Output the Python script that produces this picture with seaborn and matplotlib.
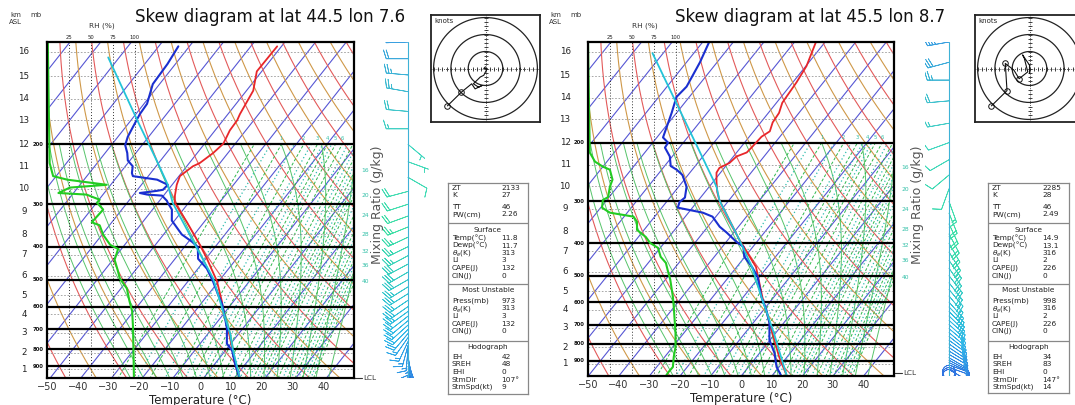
import numpy as np
import pandas as pd
import matplotlib
matplotlib.use("Agg")
import matplotlib.pyplot as plt
from matplotlib.colors import LinearSegmentedColormap, Normalize
from matplotlib.ticker import NullLocator
import seaborn as sns

sns.set_style("white")
plt.rcParams["font.family"] = ["DejaVu Sans"]

# ---------------------------------------------------------------- data
titles = ["Skew diagram at lat 44.5 lon 7.6", "Skew diagram at lat 45.5 lon 8.7"]
surface_p = [973, 998]
lcl_p = [973, 978]

x_ticks = [-50, -40, -30, -20, -10, 0, 10, 20, 30, 40]
km_labels = list(range(1, 17))
km_p = [918, 820, 716, 632, 556, 487, 423, 368, 315, 270, 233, 200, 170, 147, 126, 107]
mb_levels = [900, 800, 700, 600, 500, 400, 300, 200]
rh_ticks = [25, 50, 75, 100]
mr_edge_labels = [16, 20, 24, 28, 32, 36, 40]
mr_edge_p_left = [239, 283, 323, 368, 414, 455, 506]
mr_edge_p_right = [238, 277, 318, 365, 407, 451, 508]
mr_top_labels = [1, 2, 3, 4, 5, 6]

# left sounding (lat 44.5 lon 7.6)
t_p_left = [973, 881, 797, 721, 648, 607, 579, 506, 434, 395, 339, 297, 283, 263, 248,
            232, 227, 212, 199, 182, 170, 163, 139, 122, 103]
t_left = [11.8, 6.4, 1.7, -3.1, -8.5, -11.7, -13.8, -20.5, -29.6, -35.5, -45.5, -54.5, -56.3,
          -58.5, -59.7, -58.0, -56.6, -54.8, -53.9, -55.2, -55.4, -56.1, -57.8, -61.6, -61.4]
td_p_left = [973, 881, 808, 771, 697, 648, 590, 552, 506, 464, 434, 401, 387, 368, 335, 311,
             297, 293, 283, 281, 278, 274, 272, 263, 254, 248, 243, 232, 223, 212, 201, 190,
             177, 163, 152, 133, 116, 103]
td_left = [11.7, 6.4, 2.2, -1.3, -5.1, -8.5, -13.0, -16.9, -21.8, -27.1, -32.5, -35.6, -38.8,
           -44.1, -50.9, -53.7, -56.8, -57.6, -60.5, -65.6, -68.4, -63.4, -61.7, -61.4, -66.2,
           -75.0, -76.1, -77.6, -80.7, -82.8, -85.5, -86.8, -87.7, -88.7, -89.0, -92.2, -92.6,
           -93.6]
par_p_left = [973, 808, 721, 619, 496, 406, 297, 263, 223, 174, 111]
par_left = [11.8, 2.5, -2.8, -10.9, -22.5, -35.3, -55.2, -61.4, -71.3, -86.5, -113.6]
rh_p_left = [973, 693, 619, 579, 531, 496, 464, 437, 406, 395, 369, 346, 339, 311, 297, 291,
             281, 278, 268, 263, 254, 248, 227, 104, 100]
rh_left = [99, 98, 97, 94, 91, 83, 80, 77, 81, 72, 64, 60, 51, 64, 57, 60, 45, 13, 26, 68, 23,
           7, 3, 1, 1]

# right sounding (lat 45.5 lon 8.7)
t_p_right = [998, 875, 742, 579, 471, 391, 297, 281, 262, 246, 238, 230, 220, 214, 206, 192,
             185, 174, 163, 152, 132, 118, 100]
t_right = [14.9, 7.4, -1.1, -13.8, -23.7, -36.2, -53.2, -56.0, -58.9, -61.3, -61.6, -59.6,
           -59.0, -56.7, -56.4, -56.0, -54.7, -56.1, -56.5, -58.1, -58.8, -59.8, -63.0]
td_p_right = [998, 938, 851, 779, 692, 633, 579, 504, 471, 439, 410, 396, 372, 357, 333, 324,
              313, 301, 292, 271, 250, 241, 235, 220, 207, 200, 193, 179, 163, 146, 136, 115, 100]
td_right = [13.1, 9.2, 4.8, -0.2, -4.7, -9.1, -14.1, -20.6, -25.0, -30.2, -33.1, -36.7, -42.2,
            -46.1, -51.1, -55.3, -64.8, -65.7, -65.1, -67.4, -71.8, -75.1, -78.0, -80.8, -84.7,
            -85.0, -88.0, -89.6, -91.6, -94.2, -93.6, -95.6, -97.9]
par_p_right = [998, 875, 742, 591, 471, 391, 311, 297, 271, 171, 108]
par_right = [14.9, 8.0, -0.6, -13.0, -25.0, -36.2, -50.4, -53.2, -57.6, -85.6, -113.5]
rh_p_right = [998, 971, 938, 875, 818, 742, 620, 579, 514, 481, 458, 439, 413, 399, 383, 365,
              345, 333, 324, 313, 297, 291, 271, 258, 241, 236, 228, 214, 100]
rh_right = [89, 92, 97, 98, 100, 100, 98, 97, 94, 91, 89, 83, 80, 71, 66, 56, 56, 52, 25, 16,
            17, 23, 25, 28, 25, 17, 8, 2, 0]

# winds (direction from, deg; speed, kt)
wind_p_left = [973, 960, 945, 930, 915, 900, 880, 860, 840, 820, 800, 780, 760, 740, 720, 700,
               680, 660, 640, 620, 600, 575, 550, 525, 500, 475, 450, 425, 400, 375, 350, 325,
               300, 275, 250, 225, 200, 180, 160, 140, 125, 112, 100]
wind_dir_left = [140, 140, 145, 150, 150, 155, 160, 165, 170, 175, 185, 195, 205, 215, 220, 225,
                 228, 230, 232, 234, 235, 236, 238, 238, 240, 240, 242, 242, 244, 245, 248, 250,
                 252, 255, 120, 110, 130, 270, 275, 280, 275, 270, 268]
wind_spd_left = [8, 10, 10, 12, 12, 12, 13, 13, 14, 14, 15, 15, 16, 17, 18, 19, 20, 21, 22, 23,
                 24, 25, 26, 27, 28, 28, 28, 27, 26, 25, 23, 22, 20, 18, 8, 7, 6, 15, 20, 25,
                 25, 22, 20]
wind_p_right = [998, 985, 970, 955, 940, 925, 910, 895, 880, 860, 840, 820, 800, 780, 760, 740,
                720, 700, 680, 660, 640, 620, 600, 575, 550, 525, 500, 475, 450, 425, 400, 375,
                350, 325, 300, 275, 250, 225, 200, 175, 150, 130, 115, 100]
wind_dir_right = [180, 160, 140, 120, 110, 110, 115, 118, 120, 120, 122, 124, 125, 126, 128, 130,
                  130, 132, 132, 134, 135, 136, 138, 140, 140, 142, 142, 145, 145, 148, 150, 152,
                  155, 158, 160, 200, 230, 240, 250, 260, 265, 270, 255, 260]
wind_spd_right = [2, 2, 2, 7, 8, 9, 10, 11, 12, 13, 13, 14, 14, 15, 15, 16, 16, 17, 17, 18, 18,
                  19, 20, 20, 21, 21, 22, 22, 23, 22, 22, 21, 20, 18, 16, 12, 10, 10, 12, 15,
                  20, 25, 30, 35]

# hodographs (kt)
hodo_u_left = [0, -1, 1, -1, -3, -5, -7, -4, -2, -6, -8, -14, -22]
hodo_v_left = [1, 0, 0, -4, -5, -7, -9, -11, -10, -12, -9, -14, -22]
hodo_u_right = [0, 0, -4, -3, -1, -6, -9, -14, -13, -22]
hodo_v_right = [-3, 2, 8, 6, -2, -6, -1, 3, -13, -22]
hodo_rings = [10, 20, 30]

# info tables
tbl_top_labels = ["ZT", "K", "TT", "PW(cm)"]
tbl_sfc_labels = ["Temp(°C)", "Dewp(°C)", r"$\theta_e$(K)", "LI", "CAPE(J)", "CIN(J)"]
tbl_mu_labels = ["Press(mb)", r"$\theta_e$(K)", "LI", "CAPE(J)", "CIN(J)"]
tbl_hodo_labels = ["EH", "SREH", "EHI", "StmDir", "StmSpd(kt)"]
left_top = ["2133", "27", "46", "2.26"]
left_sfc = ["11.8", "11.7", "313", "3", "132", "0"]
left_mu = ["973", "313", "3", "132", "0"]
left_hodo = ["42", "48", "0", "107°", "9"]
right_top = ["2285", "28", "46", "2.49"]
right_sfc = ["14.9", "13.1", "316", "2", "226", "0"]
right_mu = ["998", "316", "2", "226", "0"]
right_hodo = ["34", "83", "0", "147°", "14"]

# ---------------------------------------------------------------- helpers
SKEW = 38.0
RH_X0, RH_SPAN = -50.0, 28.6
W, H = 1075, 405


def skx(T, p):
    return np.asarray(T, float) + SKEW * np.log(1000.0 / np.asarray(p, float))


def rh_x(rh):
    return RH_X0 + np.asarray(rh, float) / 100.0 * RH_SPAN


def mr_td(w, p):
    e = w * np.asarray(p, float) / (622.0 + w)
    a = np.log(e / 6.112)
    return 243.5 * a / (17.67 - a)


def moist_adiabat(T0c, pm):
    Rd, cp, L, eps = 287.04, 1005.7, 2.501e6, 0.622
    out = np.empty(len(pm))
    T = T0c + 273.15
    out[0] = T
    for i in range(1, len(pm)):
        lp = np.log(pm[i - 1])
        dl = (np.log(pm[i]) - lp) / 4
        for _ in range(4):
            p = np.exp(lp)
            Tc = T - 273.15
            es = 6.112 * np.exp(17.67 * Tc / (Tc + 243.5))
            rs = eps * es / (p - es)
            g = (Rd * T + L * rs) / (cp + L * L * rs * eps / (Rd * T * T))
            T += g * dl
            lp += dl
        out[i] = T
    return out - 273.15


def frac(x0, y0, x1, y1):
    return [x0 / W, 1 - y1 / H, (x1 - x0) / W, (y1 - y0) / H]


def profile(ax, xv, pv, color, lw, z):
    df = pd.DataFrame({"x": xv, "p": pv})
    sns.lineplot(data=df, x="x", y="p", sort=False, estimator=None, color=color,
                 lw=lw, ax=ax, zorder=z)


wind_cmap = LinearSegmentedColormap.from_list(
    "w", [(0, "#2f6fe0"), (0.15, "#30b8e8"), (0.45, "#3fdfa6"), (0.7, "#44d8c0"), (1, "#3aa0e0")])

fig = plt.figure(figsize=(W / 100, H / 100), dpi=100)

panels = [
    dict(box=(47, 42, 354, 378), title_x=270, km=(10, 30, 9), rh_lbl=102, mix_x=378, barb=(380, 408, 436),
         hodo=(431, 15, 540, 122), tbl=(448, 183, 528, 394),
         T=(t_p_left, t_left), Td=(td_p_left, td_left), par=(par_p_left, par_left),
         RH=(rh_p_left, rh_left), wind=(wind_p_left, wind_dir_left, wind_spd_left),
         hodo_uv=(hodo_u_left, hodo_v_left), hodo_mk=[11, 12], mr_edge=mr_edge_p_left,
         tbl_vals=(left_top, left_sfc, left_mu, left_hodo)),
    dict(box=(588, 42, 894, 376), title_x=810, km=(550, 570, 549), rh_lbl=645, mix_x=918, barb=(925, 949, 975),
         hodo=(975, 15, 1084, 122), tbl=(988, 183, 1069, 393),
         T=(t_p_right, t_right), Td=(td_p_right, td_right), par=(par_p_right, par_right),
         RH=(rh_p_right, rh_right), wind=(wind_p_right, wind_dir_right, wind_spd_right),
         hodo_uv=(hodo_u_right, hodo_v_right), hodo_mk=[5, 7, 8, 9], mr_edge=mr_edge_p_right,
         tbl_vals=(right_top, right_sfc, right_mu, right_hodo)),
]

mr_dash = [0.4, 1, 2, 3, 4, 5, 6, 8, 10, 12, 14, 16, 20, 24, 28, 32, 36, 40]
mr_dot = [0.7, 1.5, 2.5, 3.5, 4.5, 7, 9, 11, 13, 15, 18, 22, 26, 30, 34, 38]
pp = np.geomspace(1100, 95, 160)
pm = np.geomspace(1100, 200, 140)
moist_curves = {T0: moist_adiabat(T0, pm) for T0 in range(-16, 48, 4)}

for k, P in enumerate(panels):
    x0, y0, x1, y1 = P["box"]
    pbot = surface_p[k]
    ax = fig.add_axes(frac(x0, y0, x1, y1))
    ax.set_facecolor("white")

    # background grid of the thermodynamic diagram
    for T in range(-170, 60, 10):
        ax.plot(skx(T, pp), pp, color="#5656d4", lw=0.8, zorder=1)
    for i, th in enumerate(range(230, 520, 10)):
        T = th * (pp / 1000.0) ** 0.2857 - 273.15
        ax.plot(skx(T, pp), pp, color="#e35a5a" if i % 2 == 0 else "#cf9848", lw=0.8, zorder=1)
    for T0, Tm in moist_curves.items():
        ax.plot(skx(Tm, pm), pm, color="#56c46a", lw=0.7, zorder=1)
    for w in mr_dash:
        ax.plot(skx(mr_td(w, pm), pm), pm, color="#2fb84e", lw=0.7, ls=(0, (3, 2)), zorder=1)
    for w in mr_dot:
        ax.plot(skx(mr_td(w, pm), pm), pm, color="#2fbcae", lw=0.9, ls=(0, (1, 2)), zorder=1)

    for pk in km_p:
        ax.axhline(pk, color="#999999", lw=0.6, ls=(0, (2, 2)), zorder=2)
    for r in rh_ticks:
        ax.axvline(rh_x(r), color="#333333", lw=0.7, ls=(0, (1, 2)), zorder=2)
    for pl in mb_levels:
        ax.axhline(pl, color="black", lw=1.6, zorder=3)

    # profiles
    profile(ax, rh_x(P["RH"][1]), P["RH"][0], "#22cc22", 1.5, 4)
    profile(ax, skx(P["T"][1], P["T"][0]), P["T"][0], "#e8262a", 1.3, 4)
    profile(ax, skx(P["Td"][1], P["Td"][0]), P["Td"][0], "#1a2fd0", 1.5, 5)
    profile(ax, skx(P["par"][1], P["par"][0]), P["par"][0], "#22c4d8", 1.3, 5)

    ax.set_yscale("log")
    ax.set_ylim(pbot, 100)
    ax.set_xlim(-50, 50)
    ax.yaxis.set_major_locator(NullLocator())
    ax.yaxis.set_minor_locator(NullLocator())
    ax.set_ylabel("")
    ax.set_xticks(x_ticks)
    ax.set_xticklabels([str(t).replace("-", "\u2212") for t in x_ticks])
    ax.tick_params(axis="x", length=0, pad=3, labelsize=7, labelcolor="#333333")
    ax.set_xlabel("Temperature (°C)", fontsize=8.5, labelpad=1, color="#222222")
    for s in ax.spines.values():
        s.set_linewidth(1.6)
        s.set_color("black")
        s.set_zorder(6)

    ytr = ax.get_yaxis_transform()
    xtr = ax.get_xaxis_transform()
    for kl, pk in zip(km_labels, km_p):
        ax.text(-0.075, pk, str(kl), transform=ytr, ha="center", va="center", fontsize=6.3,
                color="#222222")
    for pl in mb_levels:
        ax.text(-0.029, pl, str(pl), transform=ytr, ha="center", va="center", fontsize=3.8,
                fontweight="bold", color="#111111")
    for r in rh_ticks:
        ax.text(rh_x(r), 1.006, str(r), transform=xtr, ha="center", va="bottom", fontsize=3.8,
                color="#222222")
    for w, pe in zip(mr_edge_labels, P["mr_edge"]):
        ax.text(1.036, pe, str(w), transform=ytr, ha="center", va="center", fontsize=4.3,
                color="#33c0a8")
    for w in mr_top_labels:
        xw = float(skx(mr_td(w, 200), 200))
        if -50 < xw < 49:
            ax.text(xw, 196, str(w), ha="center", va="bottom", fontsize=3.8, color="#33c0a8",
                    zorder=7)
    # LCL marker
    ax.plot([1.0, 1.025], [lcl_p[k], lcl_p[k]], transform=ytr, color="#333333", lw=0.8,
            clip_on=False)
    ax.text(1.03, lcl_p[k], "LCL", transform=ytr, ha="left", va="center", fontsize=5.2,
            color="#333333")

    # texts around the diagram
    fig.text(P["title_x"] / W, 1 - 17 / H, titles[k], ha="center", va="center", fontsize=12,
             color="#111111")
    kx, mx, ax_ = P["km"]
    fig.text(kx / W, 1 - 15 / H, "km", fontsize=5, va="center", color="#333333")
    fig.text(mx / W, 1 - 15 / H, "mb", fontsize=5, va="center", color="#333333")
    fig.text(ax_ / W, 1 - 22 / H, "ASL", fontsize=5, va="center", color="#333333")
    fig.text(P["rh_lbl"] / W, 1 - 26 / H, "RH (%)", fontsize=5.3, ha="center", va="center",
             color="#333333")
    fig.text(P["mix_x"] / W, 1 - 205 / H, "Mixing Ratio (g/kg)", rotation=90, fontsize=9,
             ha="center", va="center", color="#555555")

    # wind barbs column
    bx0, banchor, bx1 = P["barb"]
    bax = fig.add_axes(frac(bx0, y0, bx1, y1))
    bax.set_yscale("log")
    bax.set_ylim(pbot, 100)
    a = (banchor - bx0) / (bx1 - bx0)
    bax.set_xlim(-a, 1 - a)
    bax.axis("off")
    wp, wd, ws = (np.asarray(v, float) for v in P["wind"])
    u = -ws * np.sin(np.radians(wd))
    v = -ws * np.cos(np.radians(wd))
    cval = (np.log(pbot) - np.log(wp)) / (np.log(pbot) - np.log(100))
    bax.plot([0, 0], [pbot, 100], color="#3fb2d6", lw=0.8)
    bax.barbs(np.zeros_like(wp), wp, u, v, cval, cmap=wind_cmap, norm=Normalize(0, 1),
              length=5.6, linewidth=0.55, sizes=dict(emptybarb=0.3))

    # hodograph
    hx0, hy0, hx1, hy1 = P["hodo"]
    hax = fig.add_axes(frac(hx0, hy0, hx1, hy1))
    hax.set_xlim(-31.5, 31.5)
    hax.set_ylim(-31.5, 31.5)
    th = np.linspace(0, 2 * np.pi, 200)
    for r in hodo_rings:
        hax.plot(r * np.cos(th), r * np.sin(th), color="#222222", lw=0.9)
    hax.axhline(0, color="#222222", lw=0.6, ls=(0, (1, 1.5)))
    hax.axvline(0, color="#222222", lw=0.6, ls=(0, (1, 1.5)))
    tk = np.arange(-30, 31, 2.5)
    hax.plot(tk, np.zeros_like(tk), ls="none", marker="|", ms=2.5, mew=0.6, color="#222222")
    hax.plot(np.zeros_like(tk), tk, ls="none", marker="_", ms=2.5, mew=0.6, color="#222222")
    hu, hv = P["hodo_uv"]
    hdf = pd.DataFrame({"u": hu, "v": hv})
    sns.lineplot(data=hdf, x="u", y="v", sort=False, estimator=None, color="#111111", lw=0.8,
                 ax=hax)
    mk = P["hodo_mk"]
    hax.plot(np.asarray(hu)[mk], np.asarray(hv)[mk], ls="none", marker="o", ms=4, mfc="none",
             mec="#111111", mew=0.7)
    hax.text(0.03, 0.97, "knots", transform=hax.transAxes, fontsize=5, ha="left", va="top")
    hax.set_xticks([])
    hax.set_yticks([])
    hax.set_xlabel("")
    hax.set_ylabel("")
    for s in hax.spines.values():
        s.set_linewidth(1.3)
        s.set_color("#222222")

    # information table
    tx0, ty0, tx1, ty1 = P["tbl"]
    tax = fig.add_axes(frac(tx0, ty0, tx1, ty1))
    tax.set_xlim(0, 1)
    tax.set_ylim(0, 1)
    tax.set_xticks([])
    tax.set_yticks([])
    for s in tax.spines.values():
        s.set_linewidth(0.9)
        s.set_color("#888888")
    th_ = ty1 - ty0

    def yf(py):
        return 1 - (py - 183) / th_

    topv, sfcv, muv, hdv = P["tbl_vals"]
    rows = []
    rows += list(zip(tbl_top_labels, topv, [188, 195, 207, 214.5]))
    rows += list(zip(tbl_sfc_labels, sfcv, [238, 245.5, 253, 260.5, 268, 275.5]))
    rows += list(zip(tbl_mu_labels, muv, [301, 308.5, 316, 323.5, 331]))
    rows += list(zip(tbl_hodo_labels, hdv, [357, 364.5, 372, 379.5, 387]))
    for lab, val, py in rows:
        tax.text(0.05, yf(py), lab, fontsize=5.3, ha="left", va="center", color="#222222")
        tax.text(0.67, yf(py), val, fontsize=5.3, ha="left", va="center", color="#222222")
    for hdr, py in [("Surface", 229.5), ("Most Unstable", 290), ("Hodograph", 346.5)]:
        tax.text(0.5, yf(py), hdr, fontsize=5.3, ha="center", va="center", color="#222222")
    for py in [223, 284, 341]:
        tax.axhline(yf(py), color="#888888", lw=0.9)

fig.savefig("out.png", dpi=100)
